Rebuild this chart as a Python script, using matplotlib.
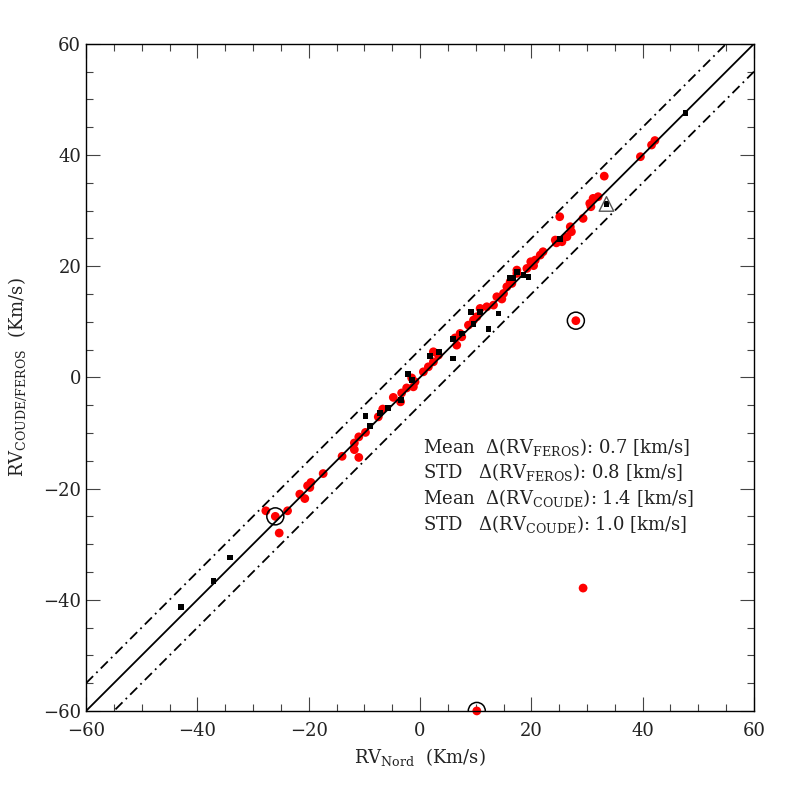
import matplotlib
matplotlib.use("Agg")
import matplotlib.pyplot as plt
from matplotlib.ticker import MultipleLocator
import numpy as np

plt.rcParams['font.family'] = ['DejaVu Serif']
plt.rcParams['mathtext.fontset'] = 'dejavuserif'

# COUDE velocities (black squares)
coude_nord = [-43.0, -37.1, -34.1, -9.8, -9.0, -7.2, -5.7, -3.4, -2.1, -1.4,
              1.8, 3.4, 5.9, 5.9, 7.5, 9.1, 9.6, 10.7, 12.3, 14.1,
              16.2, 16.8, 17.4, 18.6, 19.5, 25.1, 33.5, 47.7]
coude_rv = [-41.3, -36.6, -32.4, -6.9, -8.7, -6.4, -5.5, -4.0, 0.6, -0.4,
            3.9, 4.5, 3.4, 6.9, 7.9, 11.8, 9.6, 11.8, 8.7, 11.5,
            17.8, 17.8, 19.0, 18.4, 18.0, 24.9, 31.2, 47.6]

# FEROS velocities (red dots)
feros_nord = [-27.7, -26.0, -25.3, -23.8, -21.6, -20.7, -20.2, -19.6, -19.8, -17.4,
              -14.0, -11.8, -11.8, -11.0, -11.0, -9.8, -7.5, -6.7, -4.8, -3.5,
              -3.3, -2.4, -1.2, -0.9, -1.5, 0.6, 1.5, 2.4, 2.4, 3.3,
              6.6, 6.3, 7.5, 7.2, 8.7, 9.6, 10.2, 10.8, 12.0, 13.2,
              13.8, 14.7, 15.0, 15.6, 16.2, 16.5, 17.4, 17.4, 19.2, 19.9,
              20.4, 20.7, 21.6, 22.1, 24.3, 24.5, 25.5, 25.1, 26.4, 27.2,
              27.0, 29.3, 30.5, 31.1, 32.0, 30.7, 33.1, 39.6, 41.6, 42.2,
              28.0, 29.3, 10.2]
feros_rv = [-24.0, -25.0, -28.0, -24.0, -21.0, -21.8, -19.5, -18.9, -19.8, -17.3,
            -14.2, -11.8, -13.0, -10.7, -14.4, -9.9, -7.1, -5.7, -3.6, -4.4,
            -2.8, -1.9, -1.7, -0.8, -0.1, 1.0, 1.9, 2.8, 4.6, 4.0,
            5.8, 7.1, 7.3, 7.9, 9.4, 10.3, 10.9, 12.4, 12.7, 13.0,
            14.5, 14.1, 15.1, 16.3, 17.2, 16.9, 18.7, 19.3, 19.6, 20.8,
            20.1, 21.1, 22.0, 22.6, 24.7, 24.2, 24.4, 28.9, 25.3, 26.2,
            27.1, 28.6, 31.3, 32.2, 32.5, 30.7, 36.2, 39.7, 41.8, 42.6,
            10.2, -37.9, -60.0]

# circled outliers and the flagged point
circled_nord = [-26.0, 28.0, 10.2]
circled_rv = [-25.0, 10.2, -60.0]
flag_nord = [33.5]
flag_rv = [31.2]

stats_lines = [
    r"Mean  $\Delta$(RV$_{\mathrm{FEROS}}$): 0.7 [km/s]",
    r"STD   $\Delta$(RV$_{\mathrm{FEROS}}$): 0.8 [km/s]",
    r"Mean  $\Delta$(RV$_{\mathrm{COUDE}}$): 1.4 [km/s]",
    r"STD   $\Delta$(RV$_{\mathrm{COUDE}}$): 1.0 [km/s]",
]

fig = plt.figure(figsize=(7.97, 7.97), dpi=100)
ax = fig.add_axes([0.108, 0.108, 0.838, 0.837])

xx = np.array([-60, 60])
ax.plot(xx, xx, color='black', lw=1.3, zorder=3)
ax.plot(xx, xx + 5, color='black', lw=1.3, dashes=(5.5, 2.5, 1, 2.5), zorder=3)
ax.plot(xx, xx - 5, color='black', lw=1.3, dashes=(5.5, 2.5, 1, 2.5), zorder=3)

ax.scatter(feros_nord, feros_rv, s=40, color='red', edgecolors='none',
           zorder=2, clip_on=False)
ax.scatter(coude_nord, coude_rv, s=18, marker='s', color='black',
           edgecolors='none', zorder=4)
ax.scatter(circled_nord, circled_rv, s=150, facecolors='none',
           edgecolors='black', linewidths=1.1, zorder=5)
ax.scatter(flag_nord, flag_rv, s=110, marker='^', facecolors='none',
           edgecolors='#555555', linewidths=1.0, zorder=5)

for i, line in enumerate(stats_lines):
    ax.text(0.5, -12.5 - 4.6 * i, line, fontsize=13, va='center', ha='left',
            color='#222222')

ax.set_xlim(-60, 60)
ax.set_ylim(-60, 60)
ax.xaxis.set_major_locator(MultipleLocator(20))
ax.yaxis.set_major_locator(MultipleLocator(20))
ax.xaxis.set_minor_locator(MultipleLocator(5))
ax.yaxis.set_minor_locator(MultipleLocator(5))
ax.tick_params(which='both', direction='in', top=True, right=True,
               labelsize=13, color='#444444', labelcolor='#222222')
ax.tick_params(which='major', length=10, width=0.8)
ax.tick_params(which='minor', length=5, width=0.8)
ax.tick_params(axis='x', pad=8)
for sp in ax.spines.values():
    sp.set_linewidth(1.0)

ax.set_xlabel(r"RV$_{\mathrm{Nord}}$  (Km/s)", fontsize=13, labelpad=4,
              color='#222222')
ax.set_ylabel(r"RV$_{\mathrm{COUDE/FEROS}}$  (Km/s)", fontsize=13, labelpad=10,
              color='#222222')

fig.savefig("out.png", dpi=100)
